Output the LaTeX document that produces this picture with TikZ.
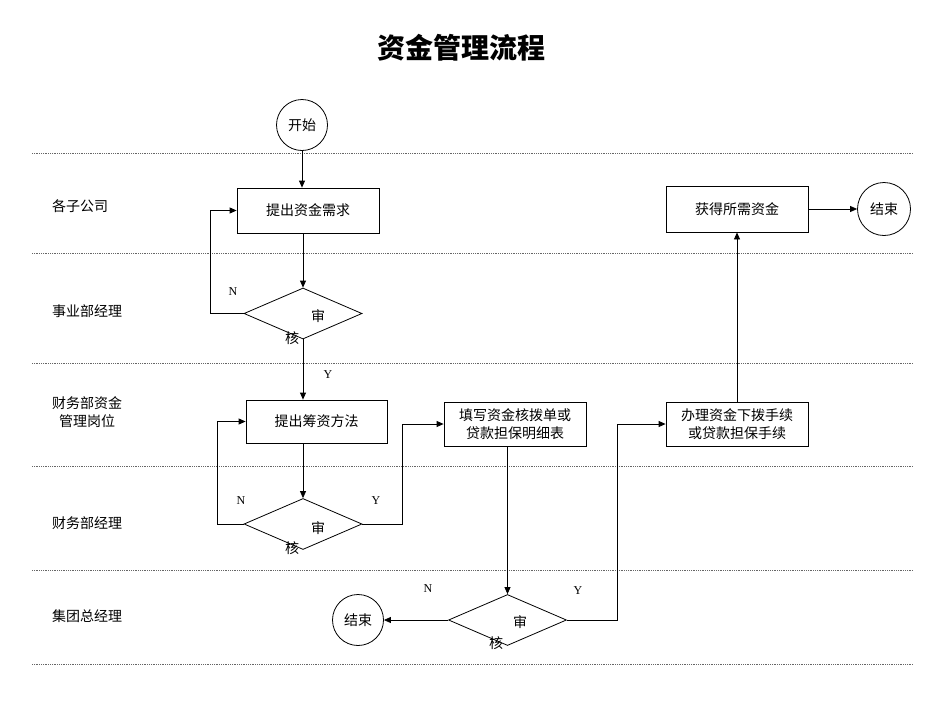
\documentclass[tikz,border=0pt]{standalone}
\usepackage{fontspec}
\setmainfont{Liberation Serif}
\newfontfamily\cjk{Noto Sans CJK SC}
\usetikzlibrary{arrows.meta,shapes.geometric}
\begin{document}
\begin{tikzpicture}[x=1pt,y=-1pt,
  lane/.style={gray!80!black,line width=0.9pt,dash pattern=on 0.9pt off 0.9pt},
  box/.style={draw,line width=0.8pt,rectangle,inner sep=0pt,font=\cjk\fontsize{14}{18}\selectfont,align=center},
  term/.style={draw,line width=0.8pt,circle,inner sep=0pt,minimum size=51pt,font=\cjk\fontsize{14}{16}\selectfont},
  dec/.style={draw,line width=0.8pt,diamond,inner sep=0pt,minimum width=118pt,minimum height=51pt},
  lbl/.style={font=\cjk\fontsize{14}{18}\selectfont,align=center},
  yn/.style={font=\fontsize{12}{14}\selectfont},
  ch/.style={font=\cjk\fontsize{14}{16}\selectfont,inner sep=0pt},
  flow/.style={line width=0.8pt,-{Triangle[length=7pt,width=6pt]}},
  ln/.style={line width=0.8pt}]
\useasboundingbox (0,0) rectangle (950,713);
% title
\node[font=\cjk\bfseries\fontsize{28}{30}\selectfont] (title) at (461,48) {资金管理流程};
% lanes
\foreach \yy/\nm in {153/l1,253/l2,363/l3,466/l4,570/l5,664/l6}{
  \coordinate (\nm a) at (32,\yy); \coordinate (\nm b) at (913,\yy);
  \draw[lane] (\nm a) -- (\nm b);}
% lane labels
\node[lbl] (r1) at (80,206) {各子公司};
\node[lbl] (r2) at (87,311) {事业部经理};
\node[lbl] (r3) at (87,412) {财务部资金\\管理岗位};
\node[lbl] (r4) at (87,523) {财务部经理};
\node[lbl] (r5) at (87,616) {集团总经理};
% nodes
\node[term] (start) at (302,125) {开始};
\node[box,minimum width=142pt,minimum height=45pt] (b1) at (308,210.5) {提出资金需求};
\node[dec] (d1) at (303,313.5) {};
\node[ch] (d1a) at (318,316) {审};
\node[ch] (d1b) at (292,338) {核};
\node[box,minimum width=141pt,minimum height=43pt] (b2) at (316.5,421.5) {提出筹资方法};
\node[dec] (d2) at (303,524) {};
\node[ch] (d2a) at (318,528) {审};
\node[ch] (d2b) at (292,548) {核};
\node[box,minimum width=142pt,minimum height=44pt] (b3) at (515,424) {填写资金核拨单或\\贷款担保明细表};
\node[dec] (d3) at (507.5,620) {};
\node[ch] (d3a) at (520,622) {审};
\node[ch] (d3b) at (496,643) {核};
\node[term] (end1) at (358,620) {结束};
\node[box,minimum width=142pt,minimum height=44pt] (b4) at (737,424) {办理资金下拨手续\\或贷款担保手续};
\node[box,minimum width=142pt,minimum height=46pt] (b5) at (737,209) {获得所需资金};
\node[term,minimum size=53pt] (end2) at (884,209) {结束};
% labels
\node[yn] (n1) at (233,292) {N};
\node[yn] (y1) at (328,375) {Y};
\node[yn] (n2) at (241,501) {N};
\node[yn] (y2) at (376,501) {Y};
\node[yn] (n3) at (428,589) {N};
\node[yn] (y3) at (578,591) {Y};
% connectors
\draw[flow] (start.south) -- (start.south |- b1.north);
\draw[flow] (d1.north |- b1.south) -- (d1.north);
\draw[flow] (d1.west) -- ++(-33,0) |- (b1.west);
\draw[flow] (d1.south) -- (d1.south |- b2.north);
\draw[flow] (d2.north |- b2.south) -- (d2.north);
\draw[flow] (d2.west) -- ++(-26,0) |- (b2.west);
\draw[flow] (d2.east) -- ++(40,0) |- (b3.west);
\draw[flow] (b3.south -| d3.north) -- (d3.north);
\draw[flow] (d3.west) -- (end1.east);
\draw[flow] (d3.east) -- ++(50,0) |- (b4.west);
\draw[flow] (b4.north) -- (b5.south);
\draw[flow] (b5.east) -- (end2.west);
\end{tikzpicture}
\end{document}
